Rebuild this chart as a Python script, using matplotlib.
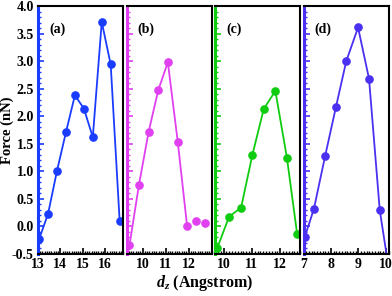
import numpy as np
import matplotlib
matplotlib.use("Agg")
import matplotlib.pyplot as plt
from matplotlib.ticker import MultipleLocator

plt.rcParams['font.family'] = ['Liberation Serif', 'DejaVu Serif']
plt.rcParams['font.weight'] = 'bold'
plt.rcParams['mathtext.fontset'] = 'custom'
plt.rcParams['mathtext.it'] = 'Liberation Serif:italic:bold'
plt.rcParams['mathtext.rm'] = 'Liberation Serif:bold'

# panel (a)
xa = [12.7, 13.05, 13.45, 13.85, 14.25, 14.65, 15.05, 15.45, 15.85, 16.25, 16.65]
ya = [-1.2, -0.23, 0.23, 1.01, 1.71, 2.38, 2.14, 1.62, 3.71, 2.94, 0.10]
# panel (b), last two points not joined
xb = [9.0, 9.43, 9.84, 10.26, 10.68, 11.10, 11.53, 11.94]
yb = [-1.3, -0.34, 0.75, 1.71, 2.47, 2.98, 1.54, 0.0]
xb_free = [12.33, 12.72]
yb_free = [0.09, 0.06]
# panel (c)
xc = [9.6, 9.78, 10.20, 10.62, 11.02, 11.42, 11.83, 12.24, 12.60]
yc = [-0.8, -0.39, 0.18, 0.34, 1.30, 2.13, 2.46, 1.24, -0.14]
# panel (d)
xd = [6.9, 7.04, 7.38, 7.79, 8.18, 8.56, 8.99, 9.39, 9.78, 10.15]
yd = [-0.6, -0.20, 0.32, 1.28, 2.16, 3.00, 3.61, 2.68, 0.30, -0.9]

panels = [
    ("(a)", xa, ya, '#1a3cff', (13.0, 16.8), [13, 14, 15, 16]),
    ("(b)", xb, yb, '#e040f0', (9.3, 13.0), [10, 11, 12]),
    ("(c)", xc, yc, '#10cc10', (9.7, 12.7), [10, 11, 12]),
    ("(d)", xd, yd, '#4a30f0', (7.0, 10.1), [7, 8, 9, 10]),
]

fig = plt.figure(figsize=(3.92, 2.96), dpi=100)
W, H = 392.0, 296.0
lefts = [38, 126.5, 215, 303.5]
pw = 85
bottom = (H - 254) / H
height = 248 / H

for i, (lab, x, y, col, xl, xt) in enumerate(panels):
    ax = fig.add_axes([lefts[i] / W, bottom, pw / W, height])
    ax.plot(x, y, '-o', color=col, lw=1.3, ms=5.2, clip_on=True)
    if lab == "(b)":
        ax.plot(xb_free, yb_free, 'o', color=col, ms=5.2, clip_on=False)
    ax.set_xlim(*xl)
    ax.set_ylim(-0.5, 4.0)
    ax.set_xticks(xt)
    ax.set_xticklabels([str(t) for t in xt])
    ax.xaxis.set_minor_locator(MultipleLocator(0.1))
    ax.yaxis.set_major_locator(MultipleLocator(0.5))
    ax.yaxis.set_minor_locator(MultipleLocator(0.1))
    ax.tick_params(which='both', direction='in', top=False, right=False,
                   labelsize=10, pad=3)
    ax.tick_params(axis='x', which='major', length=4, width=1.2, color='black')
    ax.tick_params(axis='x', which='minor', length=2.5, width=1.0, color='black')
    ax.tick_params(axis='y', which='major', length=4, width=1.2, color=col)
    ax.tick_params(axis='y', which='minor', length=2.5, width=1.0, color=col)
    for s in ['top', 'right', 'bottom']:
        ax.spines[s].set_linewidth(1.5)
        ax.spines[s].set_color('black')
    ax.spines['left'].set_color(col)
    ax.spines['left'].set_linewidth(2.2)
    if i == 0:
        ax.set_yticklabels([f"{v:.1f}" for v in ax.get_yticks()])
        ax.set_ylabel("Force (nN)", fontsize=10.5, fontweight='bold')
        ax.yaxis.set_label_coords(-(38 - 14) / pw, 0.5)
    else:
        ax.set_yticklabels([])
    for t in ax.get_xticklabels() + ax.get_yticklabels():
        t.set_fontweight('bold')
    ax.text(0.13, 0.905, lab, transform=ax.transAxes, fontsize=10,
            fontweight='bold', ha='left', va='center')

fig.text(205 / W, 1 - 283 / H, r"$d_z$ (Angstrom)", fontsize=11.5,
         fontweight='bold', ha='center', va='center')

fig.savefig("out.png", dpi=100)
